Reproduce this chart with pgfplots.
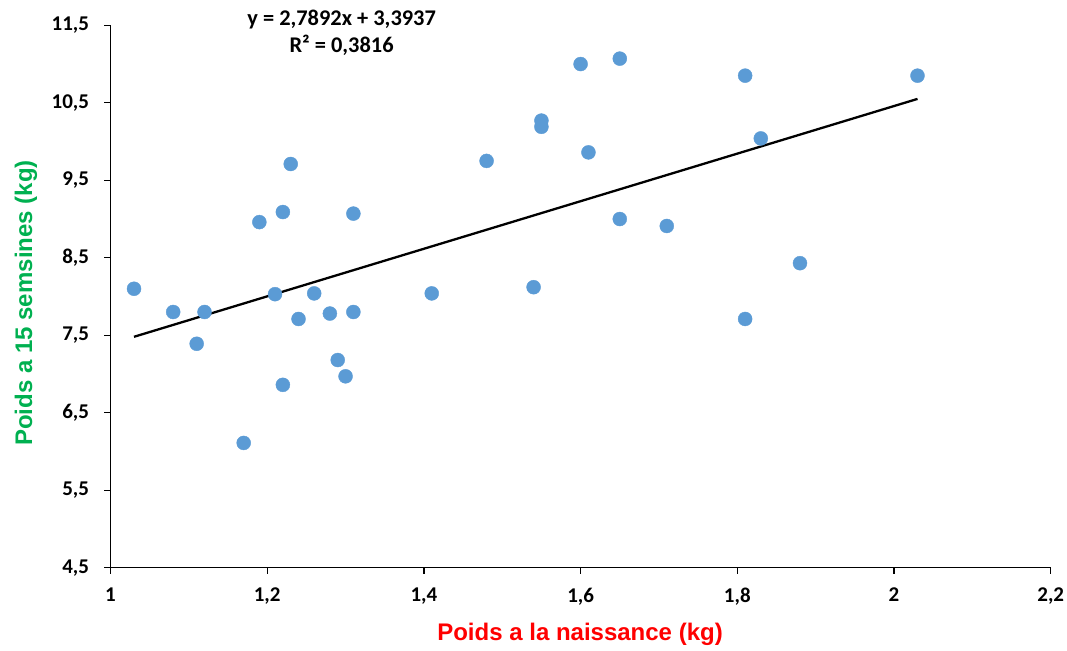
\documentclass[border=0pt]{standalone}
\usepackage{pgfplots}
\pgfplotsset{compat=1.18}
\usepackage{fontspec}
\setmainfont{Carlito}
\newfontfamily\arialfont{Liberation Sans}
\definecolor{ptblue}{HTML}{5B9BD5}
\definecolor{ygreen}{HTML}{00B050}
\definecolor{xred}{HTML}{FF0000}
\pgfplotstableread{
x y
1.03 8.10
1.08 7.80
1.11 7.39
1.12 7.80
1.17 6.11
1.19 8.96
1.21 8.03
1.22 9.09
1.22 6.86
1.23 9.71
1.24 7.71
1.26 8.04
1.28 7.78
1.29 7.18
1.30 6.97
1.31 9.07
1.31 7.80
1.41 8.04
1.48 9.75
1.54 8.12
1.55 10.27
1.55 10.19
1.60 11.00
1.61 9.86
1.65 11.07
1.65 9.00
1.71 8.91
1.81 10.85
1.81 7.71
1.83 10.04
1.88 8.43
2.03 10.85
}\pts
\begin{document}
\begin{tikzpicture}
\begin{axis}[
 scale only axis, width=940.2bp, height=542.4bp,
 xmin=1, xmax=2.2, ymin=4.5, ymax=11.5,
 axis x line=bottom, axis y line=left,
 axis line style={-, line width=1.3bp, black},
 xtick={1,1.2,1.4,1.6,1.8,2,2.2},
 ytick={4.5,5.5,6.5,7.5,8.5,9.5,10.5,11.5},
 tick align=outside, major tick length=6bp,
 tick style={line width=1.3bp, black},
 /pgf/number format/use comma,
 /pgf/number format/assume math mode=true,
 ticklabel style={font=\fontsize{21bp}{24bp}\selectfont\bfseries},
 xticklabel style={yshift=-11bp},
 yticklabel style={xshift=-12bp},
 xlabel={Poids a la naissance (kg)},
 ylabel={Poids a 15 semsines (kg)},
 xlabel style={font=\arialfont\fontsize{24bp}{28bp}\selectfont\bfseries, text=xred, at={(axis description cs:0.4994,-0.1222)}, anchor=center},
 ylabel style={font=\arialfont\fontsize{24bp}{28bp}\selectfont\bfseries, text=ygreen, at={(axis description cs:-0.0899,0.488)}, anchor=center},
 clip=false,
]
\addplot[ptblue, only marks, mark=*, mark size=7bp, mark options={draw=ptblue, fill=ptblue}] table[x=x,y=y] {\pts};
\addplot[black, line width=2.3bp] coordinates {(1.03,7.48) (2.03,10.55)};
\node[font=\fontsize{22.4bp}{26bp}\selectfont\bfseries] at (axis cs:1.295,11.58) {y = 2,7892x + 3,3937};
\node[font=\fontsize{22.4bp}{26bp}\selectfont\bfseries] at (axis cs:1.295,11.24) {R² = 0,3816};
\end{axis}
\pgfresetboundingbox
\path[use as bounding box] (current axis.south west) ++(-110.5bp,-83.3bp) rectangle ++(1067bp,651bp);
\end{tikzpicture}
\end{document}
